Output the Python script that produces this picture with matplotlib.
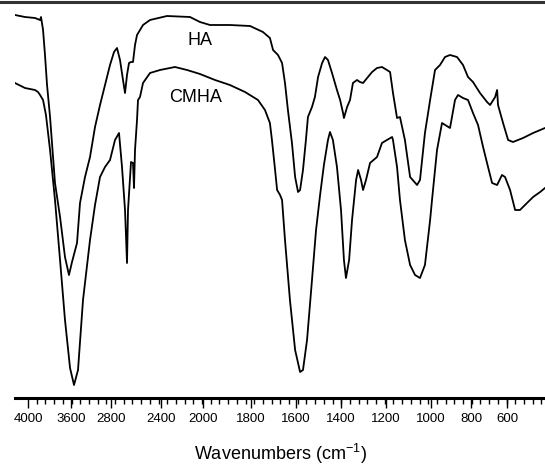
import numpy as np
import matplotlib
matplotlib.use("Agg")
import matplotlib.pyplot as plt
from matplotlib.lines import Line2D
from matplotlib.ticker import FixedLocator, FixedFormatter

plt.rcParams["font.family"] = ["Liberation Sans", "DejaVu Sans"]
plt.rcParams["mathtext.default"] = "regular"

# tick labels as printed on the original axis (not evenly spaced in value)
tick_wn = [4000, 3600, 2800, 2400, 2000, 1800, 1600, 1400, 1200, 1000, 800, 600]
tick_labels = [str(v) for v in tick_wn]

# HA spectrum (wavenumber, transmittance in arbitrary units)
ha_wn = [4121, 4028, 3935, 3888, 3879, 3860, 3842, 3823, 3795, 3749, 3702, 3656,
         3619, 3580, 3480, 3420, 3320, 3220, 3120, 3020, 2920, 2820, 2776, 2752,
         2728, 2704, 2688, 2672, 2656, 2640, 2624, 2608, 2592, 2544, 2488, 2343,
         2124, 2029, 1971, 1888, 1804, 1747, 1716, 1702, 1680, 1662, 1649, 1636,
         1618, 1604, 1591, 1582, 1569, 1556, 1547, 1529, 1516, 1502, 1484, 1471,
         1458, 1440, 1418, 1404, 1391, 1387, 1373, 1360, 1347, 1329, 1316, 1302,
         1284, 1262, 1240, 1218, 1196, 1182, 1169, 1151, 1138, 1116, 1093, 1062,
         1049, 1027, 1004, 980, 955, 930, 905, 870, 840, 815, 789, 750, 711, 694,
         666, 655, 650, 622, 594, 567, 511, 455, 389]
ha_t = [383, 381, 380, 378, 381, 368, 343, 313, 281, 215, 181, 141,
        123, 136, 155, 195, 221, 241, 271, 293, 313, 333, 346, 350,
        338, 318, 305, 323, 335, 336, 336, 353, 363, 373, 378, 382,
        381, 376, 373, 373, 372, 366, 360, 348, 343, 335, 315, 288,
        255, 221, 206, 208, 228, 258, 281, 291, 301, 321, 335, 341,
        338, 325, 308, 298, 285, 280, 291, 298, 315, 318, 316, 315,
        320, 326, 330, 331, 328, 326, 305, 280, 281, 258, 221, 213,
        218, 265, 298, 328, 333, 341, 343, 341, 333, 321, 316, 305, 296, 293,
        301, 308, 293, 275, 258, 256, 260, 265, 270]

# CMHA spectrum
cmha_wn = [4121, 4028, 3935, 3907, 3888, 3860, 3833, 3795, 3749, 3702, 3656, 3609,
           3540, 3460, 3360, 3220, 3120, 3020, 2920, 2820, 2768, 2736, 2712, 2688,
           2672, 2664, 2640, 2624, 2616, 2608, 2592, 2584, 2568, 2544, 2488, 2408,
           2267, 2152, 2029, 1950, 1888, 1825, 1769, 1738, 1716, 1707, 1693, 1684,
           1671, 1662, 1649, 1627, 1604, 1582, 1569, 1551, 1529, 1511, 1493, 1476,
           1458, 1449, 1436, 1418, 1400, 1387, 1378, 1364, 1351, 1333, 1324, 1311,
           1302, 1289, 1271, 1240, 1218, 1196, 1173, 1169, 1151, 1138, 1116, 1093,
           1071, 1049, 1027, 1004, 995, 970, 945, 905, 880, 865, 840, 815, 789,
           761, 733, 711, 683, 655, 628, 611, 583, 555, 528, 489, 455, 416, 389]
cmha_t = [315, 310, 308, 306, 303, 298, 283, 248, 198, 138, 78, 30,
          13, 28, 98, 158, 193, 221, 231, 238, 258, 265, 231, 188,
          135, 188, 236, 235, 210, 248, 278, 298, 301, 315, 325, 328,
          331, 328, 324, 318, 313, 306, 298, 288, 275, 258, 228, 208,
          203, 198, 158, 98, 48, 26, 28, 58, 118, 168, 203, 233,
          258, 266, 258, 231, 188, 138, 120, 138, 178, 218, 228, 218,
          208, 218, 235, 241, 255, 258, 261, 258, 231, 198, 158, 133,
          123, 120, 133, 178, 198, 248, 275, 270, 298, 303, 300, 298, 285,
          273, 251, 235, 215, 213, 223, 221, 208, 188, 188, 195, 201, 206, 210]

# piecewise axis: printed labels sit at these horizontal slots
bp_wn = np.array([4400] + tick_wn + [200], dtype=float)
bp_pos = np.array([-15, 28, 71, 111, 161, 203, 251, 296, 341, 386, 431, 471, 507, 579], dtype=float)


def fwd(w):
    return np.interp(-np.asarray(w, dtype=float), -bp_wn, bp_pos)


def inv(p):
    return np.interp(np.asarray(p, dtype=float), bp_pos, bp_wn)


fig = plt.figure(figsize=(5.45, 4.66), dpi=100)
ax = fig.add_axes([15 / 545, 68 / 466, 530 / 545, 394 / 466])
ax.set_xscale("function", functions=(fwd, inv))

ax.plot(ha_wn, ha_t, color="black", lw=1.3)
ax.plot(cmha_wn, cmha_t, color="black", lw=1.3)

ax.set_xlim(389, 4121)
ax.set_ylim(0, 394)

ax.text(2029, 358, "HA", ha="center", va="center", fontsize=13)
ax.text(2067, 301, "CMHA", ha="center", va="center", fontsize=13)

for s in ["left", "right", "top"]:
    ax.spines[s].set_visible(False)
ax.spines["bottom"].set_linewidth(2.2)
ax.set_yticks([])

ax.xaxis.set_major_locator(FixedLocator(tick_wn))
ax.xaxis.set_major_formatter(FixedFormatter(tick_labels))
minor_pos = np.arange(28, 546, 43.5 / 5)
ax.xaxis.set_minor_locator(FixedLocator(inv(minor_pos)))
ax.tick_params(axis="x", which="major", length=7, width=1.0, labelsize=9.5, pad=4)
ax.tick_params(axis="x", which="minor", length=4, width=1.0)
ax.set_xlabel("Wavenumbers (cm$^{-1}$)", fontsize=13, labelpad=12)

fig.add_artist(Line2D([0, 1], [1 - 1.5 / 466, 1 - 1.5 / 466], transform=fig.transFigure,
                      color="#333333", lw=2.2))

fig.savefig("out.png", dpi=100)
